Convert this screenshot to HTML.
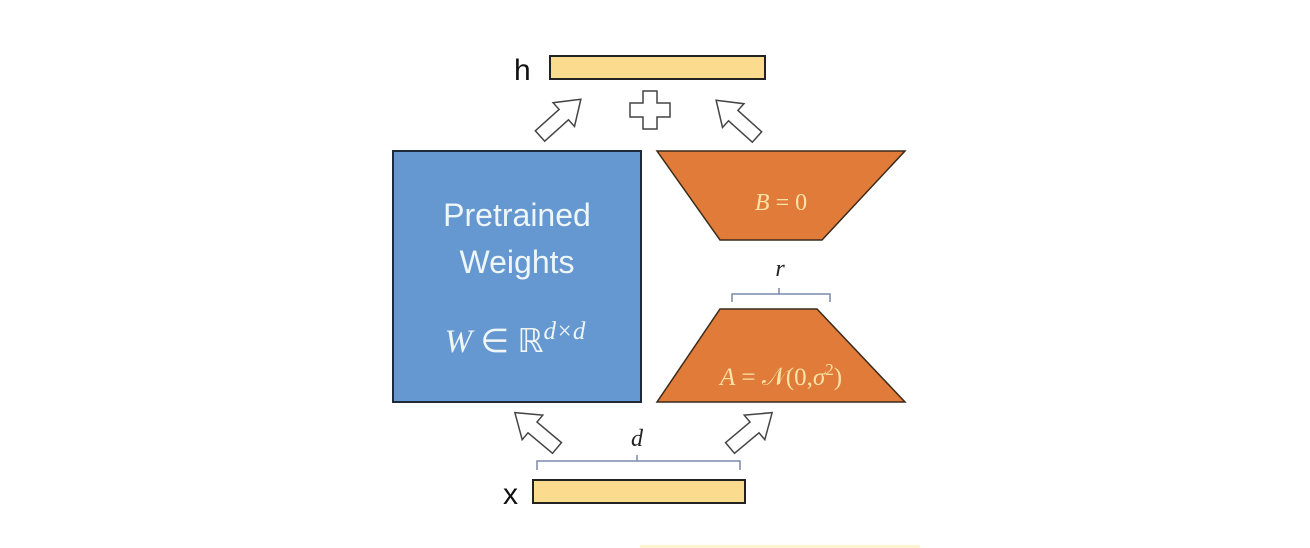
<!DOCTYPE html>
<html><head><style>
html,body{margin:0;padding:0;background:#fff;width:1310px;height:548px;overflow:hidden}
</style></head><body>
<svg width="1310" height="548" viewBox="0 0 1310 548" xmlns="http://www.w3.org/2000/svg">
<defs>
<polygon id="arr" points="0,-7 32,-7 32,-16 55,0 32,16 32,7 0,7" fill="#fff" stroke="#444" stroke-width="1.5"/>
</defs>
<rect x="550" y="56" width="215" height="23" fill="#fbdc8f" stroke="#222" stroke-width="2"/>
<text x="514" y="80" font-family="Liberation Sans, sans-serif" font-size="30" fill="#111">h</text>
<polygon points="643,91 657,91 657,103 670,103 670,117 657,117 657,129 643,129 643,117 630,117 630,103 643,103" fill="#fff" stroke="#444" stroke-width="1.5"/>
<use href="#arr" transform="translate(540,136) rotate(-42)"/>
<use href="#arr" transform="translate(757,137) rotate(-138)"/>
<use href="#arr" transform="translate(557,448) rotate(-140)"/>
<use href="#arr" transform="translate(730,448) rotate(-40)"/>
<rect x="393" y="151" width="248" height="251" fill="#6597d0" stroke="#1e2a3a" stroke-width="2"/>
<text x="517" y="226" text-anchor="middle" font-family="Liberation Sans, sans-serif" font-size="32" fill="#eef6f8">Pretrained</text>
<text x="517" y="273" text-anchor="middle" font-family="Liberation Sans, sans-serif" font-size="32" fill="#eef6f8">Weights</text>
<text x="515" y="352" text-anchor="middle" font-family="Liberation Serif, serif" font-size="33" fill="#eef6f8"><tspan font-style="italic">W</tspan> ∈ ℝ<tspan font-size="25" dy="-13" font-style="italic">d×d</tspan></text>
<polygon points="657,151 905,151 822,240 720,240" fill="#e07b39" stroke="#3a2a1a" stroke-width="1.5"/>
<text x="781" y="210" text-anchor="middle" font-family="Liberation Serif, serif" font-size="24" fill="#fbe3a8"><tspan font-style="italic">B</tspan> = 0</text>
<text x="780" y="276" text-anchor="middle" font-family="Liberation Serif, serif" font-style="italic" font-size="24" fill="#222">r</text>
<path d="M732,302 L732,294 L779,294 L779,288 M779,294 L830,294 L830,302" fill="none" stroke="#7a8aa8" stroke-width="1.5"/>
<polygon points="720,309 817,309 905,402 657,402" fill="#e07b39" stroke="#3a2a1a" stroke-width="1.5"/>
<text x="781" y="385" text-anchor="middle" font-family="Liberation Serif, serif" font-size="25" fill="#fbe3a8"><tspan font-style="italic">A</tspan> = 𝒩(0,<tspan font-style="italic">σ</tspan><tspan font-size="17" dy="-10">2</tspan><tspan dy="10">)</tspan></text>
<text x="637" y="446" text-anchor="middle" font-family="Liberation Serif, serif" font-style="italic" font-size="24" fill="#222">d</text>
<path d="M537,470 L537,461 L637,461 L637,455 M637,461 L740,461 L740,470" fill="none" stroke="#7a8aa8" stroke-width="1.5"/>
<rect x="533" y="480" width="212" height="23" fill="#fbdc8f" stroke="#222" stroke-width="2"/>
<text x="503" y="504" font-family="Liberation Sans, sans-serif" font-size="30" fill="#111">x</text>
<rect x="640" y="545" width="280" height="3" fill="#fdf3d0"/>
</svg>
</body></html>
